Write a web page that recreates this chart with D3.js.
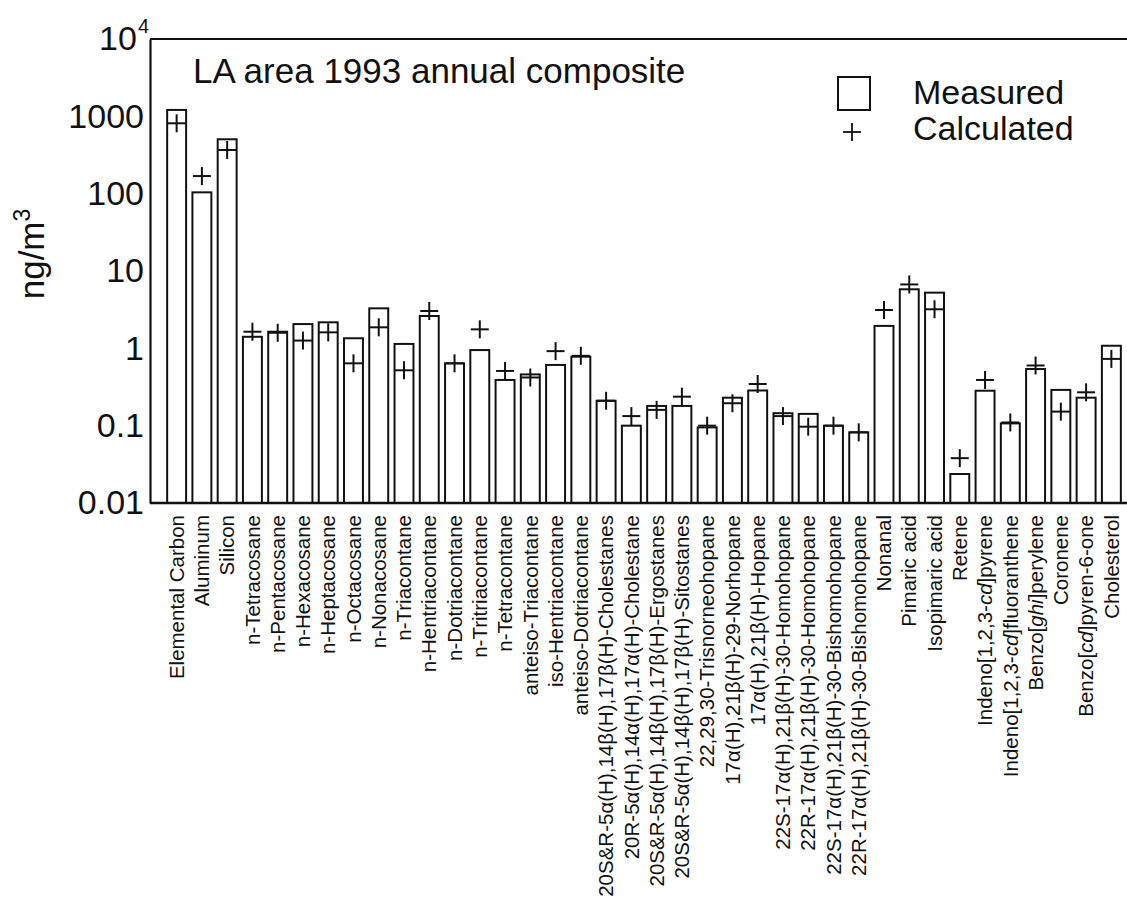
<!DOCTYPE html>
<html>
<head>
<meta charset="utf-8">
<script src="https://cdn.jsdelivr.net/npm/d3@7"></script>
<style>
  html, body { margin: 0; padding: 0; background: #fff; }
  svg { display: block; font-family: "Liberation Sans", Arial, Helvetica, sans-serif; }
</style>
</head>
<body>
<svg id="chart" width="1127" height="904"></svg>
<script>
// Organic compound and element concentrations, LA area 1993 annual composite (ng/m3)
const categories = [
  "Elemental Carbon", "Aluminum", "Silicon",
  "n-Tetracosane", "n-Pentacosane", "n-Hexacosane", "n-Heptacosane",
  "n-Octacosane", "n-Nonacosane", "n-Triacontane", "n-Hentriacontane",
  "n-Dotriacontane", "n-Tritriacontane", "n-Tetracontane",
  "anteiso-Triacontane", "iso-Hentriacontane", "anteiso-Dotriacontane",
  "20S&R-5α(H),14β(H),17β(H)-Cholestanes",
  "20R-5α(H),14α(H),17α(H)-Cholestane",
  "20S&R-5α(H),14β(H),17β(H)-Ergostanes",
  "20S&R-5α(H),14β(H),17β(H)-Sitostanes",
  "22,29,30-Trisnorneohopane",
  "17α(H),21β(H)-29-Norhopane",
  "17α(H),21β(H)-Hopane",
  "22S-17α(H),21β(H)-30-Homohopane",
  "22R-17α(H),21β(H)-30-Homohopane",
  "22S-17α(H),21β(H)-30-Bishomohopane",
  "22R-17α(H),21β(H)-30-Bishomohopane",
  "Nonanal", "Pimaric acid", "Isopimaric acid", "Retene",
  "Indeno[1,2,3-cd]pyrene", "Indeno[1,2,3-cd]fluoranthene",
  "Benzo[ghi]perylene", "Coronene", "Benzo[cd]pyren-6-one", "Cholesterol"
];

const measured = [
  1210, 104, 505,
  1.41, 1.64, 2.06, 2.17,
  1.35, 3.29, 1.14, 2.62,
  0.64, 0.95, 0.39,
  0.46, 0.61, 0.78,
  0.21, 0.10, 0.18, 0.18,
  0.095, 0.23, 0.285,
  0.145, 0.142, 0.10, 0.082,
  1.95, 5.8, 5.25, 0.0237,
  0.283, 0.107, 0.54, 0.29, 0.23, 1.08
];

const calculated = [
  813, 169, 367,
  1.64, 1.59, 1.26, 1.61,
  0.64, 1.87, 0.52, 3.04,
  0.64, 1.76, 0.51,
  0.42, 0.92, 0.80,
  0.21, 0.133, 0.16, 0.237,
  0.10, 0.195, 0.346,
  0.133, 0.097, 0.10, 0.082,
  3.13, 6.7, 3.2, 0.038,
  0.39, 0.11, 0.60, 0.152, 0.27, 0.73
];

const yTicks = [0.01, 0.1, 1, 10, 100, 1000, 10000];
const yTickLabels = ["0.01", "0.1", "1", "10", "100", "1000", "10"];

const ink = "#111";
const svg = d3.select("#chart");

const plot = { left: 150, right: 1127, top: 39, bottom: 503 };

const y = d3.scaleLog().domain([0.01, 10000]).range([plot.bottom, plot.top]);
const x = d3.scaleBand()
  .domain(categories)
  .range([164, 1124])
  .paddingInner(0.25)
  .paddingOuter(0.125);

// Frame: top and bottom lines
svg.append("line")
  .attr("x1", plot.left).attr("x2", plot.right)
  .attr("y1", plot.top).attr("y2", plot.top)
  .attr("stroke", ink).attr("stroke-width", 2.2);
svg.append("line")
  .attr("x1", plot.left).attr("x2", plot.right)
  .attr("y1", plot.bottom).attr("y2", plot.bottom)
  .attr("stroke", ink).attr("stroke-width", 2.4);

// Y axis
const yAxis = svg.append("g")
  .attr("transform", `translate(${plot.left},0)`)
  .call(d3.axisLeft(y).tickValues(yTicks).tickSize(0).tickPadding(6)
    .tickFormat((d, i) => yTickLabels[i]));
yAxis.select(".domain").attr("stroke", ink).attr("stroke-width", 2.2);
yAxis.selectAll("text")
  .attr("font-size", 34)
  .attr("fill", ink)
  .attr("font-family", "'Liberation Sans', Arial, Helvetica, sans-serif");
// top tick written as a power of ten
yAxis.selectAll(".tick").filter(d => d === 10000).select("text")
  .attr("dx", "5")
  .append("tspan")
  .attr("font-size", 20)
  .attr("dx", "1")
  .attr("dy", "-0.85em")
  .text("4");

// Y axis title
const yTitle = svg.append("text")
  .attr("transform", "translate(44,254) rotate(-90)")
  .attr("text-anchor", "middle")
  .attr("font-size", 35)
  .attr("fill", ink);
yTitle.append("tspan").text("ng/m");
yTitle.append("tspan").attr("font-size", 23).attr("dy", "-0.62em").text("3");

// Title
svg.append("text")
  .attr("x", 193).attr("y", 83)
  .attr("font-size", 35)
  .attr("fill", ink)
  .text("LA area 1993 annual composite");

// Measured bars
svg.append("g")
  .selectAll("rect")
  .data(categories)
  .join("rect")
  .attr("x", d => x(d))
  .attr("width", x.bandwidth())
  .attr("y", (d, i) => y(measured[i]))
  .attr("height", (d, i) => plot.bottom - y(measured[i]))
  .attr("fill", "none")
  .attr("stroke", ink)
  .attr("stroke-width", 2);

// Calculated markers (+)
const half = 9;
const plus = svg.append("g")
  .selectAll("g")
  .data(categories)
  .join("g")
  .attr("transform", (d, i) => `translate(${x(d) + x.bandwidth() / 2},${y(calculated[i])})`);
plus.append("line").attr("x1", -half).attr("x2", half).attr("y1", 0).attr("y2", 0)
  .attr("stroke", ink).attr("stroke-width", 2);
plus.append("line").attr("x1", 0).attr("x2", 0).attr("y1", -half).attr("y2", half)
  .attr("stroke", ink).attr("stroke-width", 2);

// Category labels, rotated; bracketed ring-fusion letters in italics
const labels = svg.append("g")
  .selectAll("text")
  .data(categories)
  .join("text")
  .attr("transform", d => `translate(${x(d) + x.bandwidth() / 2},515) rotate(-90)`)
  .attr("text-anchor", "end")
  .attr("dy", "0.35em")
  .attr("font-size", 20.5)
  .attr("fill", ink);
labels.each(function(d) {
  const t = d3.select(this);
  const parts = d.split(/(cd(?=\])|ghi(?=\]))/);
  parts.forEach(p => {
    if (!p) return;
    const s = t.append("tspan").text(p);
    if (p === "cd" || p === "ghi") s.attr("font-style", "italic");
  });
});

// Legend
svg.append("rect")
  .attr("x", 838).attr("y", 77).attr("width", 32).attr("height", 33)
  .attr("fill", "none").attr("stroke", ink).attr("stroke-width", 2);
const lp = svg.append("g").attr("transform", "translate(852,132)");
lp.append("line").attr("x1", -half).attr("x2", half).attr("stroke", ink).attr("stroke-width", 1.8);
lp.append("line").attr("y1", -half).attr("y2", half).attr("stroke", ink).attr("stroke-width", 1.8);
svg.append("text").attr("x", 913).attr("y", 104).attr("font-size", 34).attr("fill", ink).text("Measured");
svg.append("text").attr("x", 913).attr("y", 140).attr("font-size", 34).attr("fill", ink).text("Calculated");
</script>
</body>
</html>
